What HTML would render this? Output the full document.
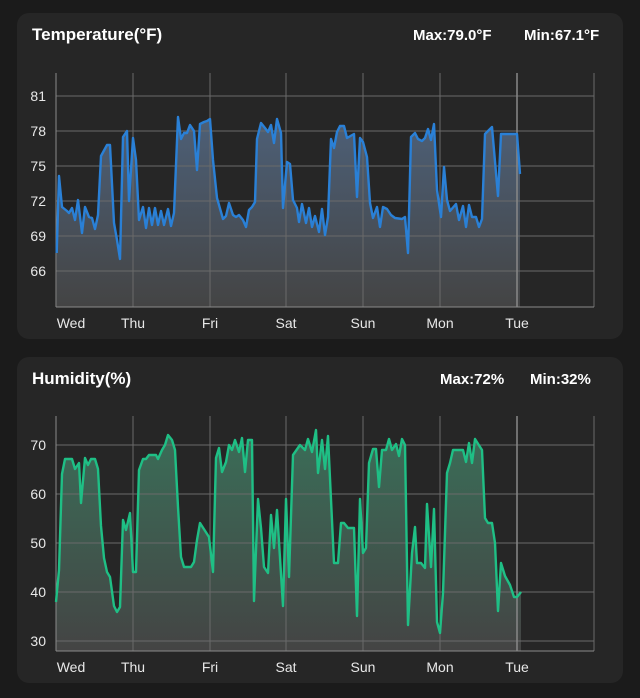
<!DOCTYPE html>
<html><head><meta charset="utf-8"><style>
html,body{margin:0;padding:0;background:#1b1b1b;}
svg{display:block;font-family:"Liberation Sans",sans-serif;}
</style></head><body>
<svg width="640" height="698" viewBox="0 0 640 698" xmlns="http://www.w3.org/2000/svg">
<defs>
<linearGradient id="gt" x1="0" y1="0" x2="0" y2="1"><stop offset="0" stop-color="#4d6078"/><stop offset="1" stop-color="#444"/></linearGradient>
<linearGradient id="gh" x1="0" y1="0" x2="0" y2="1"><stop offset="0" stop-color="#3a6e58"/><stop offset="1" stop-color="#444"/></linearGradient>
</defs>
<rect width="640" height="698" fill="#1b1b1b"/>
<rect x="17" y="13" width="606" height="326" rx="12" fill="#262626"/>
<rect x="17" y="357" width="606" height="326" rx="12" fill="#262626"/>

<text x="32" y="40" fill="#fff" font-size="17" font-weight="bold">Temperature(°F)</text>
<text x="413" y="40" fill="#fff" font-size="15" font-weight="bold">Max:79.0°F</text>
<text x="524" y="40" fill="#fff" font-size="15" font-weight="bold">Min:67.1°F</text>

<!-- temp chart -->
<path fill="url(#gt)" d="M56.7,307 L56.7,253 59,176 62,207 67,211 69,213 72,208 75,220 78,200 82,233 85,207 89,217 92,218 95,229 98,215 101,156 107,145 110,145 114,223 117,240 120,259 123,137 127,131 129,201 133,138 136,160 139,220 143,207 146,228 149,208 152,225 155,208 158,225 161,211 164,225 168,209 171,226 174,213 178,117 181,139 184,133 187,133 190,125 194,131 197,170 200,124 204,122 207,121 210,119 213,160 217,198 223,219 226,216 229,203 233,215 236,217 239,215 243,220 246,227 249,210 252,207 255,202 257,139 261,123 265,128 268,132 271,125 274,143 277,119 281,133 283,208 287,162 290,164 293,200 297,208 299,222 302,204 306,223 309,208 312,227 315,216 319,232 322,209 325,235 328,217 331,139 334,148 337,132 340,126 344,126 347,138 354,134 357,197 360,138 363,142 367,157 370,203 373,218 377,207 380,227 383,207 387,209 391,215 395,218 402,219 405,217 408,253 411,137 415,133 418,139 422,141 425,138 428,129 431,140 434,124 437,190 441,217 444,167 447,200 450,211 456,204 459,220 463,206 466,227 469,205 472,217 476,217 479,227 482,219 485,134 492,127 498,196 501,134 517,134 520,174 L520,307 Z"/>
<g stroke="#6a6a6a" stroke-width="1">
<line x1="56" y1="96" x2="594" y2="96"/><line x1="56" y1="131" x2="594" y2="131"/><line x1="56" y1="166" x2="594" y2="166"/><line x1="56" y1="201" x2="594" y2="201"/><line x1="56" y1="236" x2="594" y2="236"/><line x1="56" y1="271" x2="594" y2="271"/>
<line x1="133" y1="73" x2="133" y2="307"/><line x1="210" y1="73" x2="210" y2="307"/><line x1="286" y1="73" x2="286" y2="307"/><line x1="363" y1="73" x2="363" y2="307"/><line x1="440" y1="73" x2="440" y2="307"/><line x1="594" y1="73" x2="594" y2="307"/>
</g>
<line x1="517" y1="73" x2="517" y2="307" stroke="#888" stroke-width="1.5"/>
<line x1="56" y1="73" x2="56" y2="307" stroke="#8a8a8a"/><line x1="56" y1="307" x2="594" y2="307" stroke="#8a8a8a"/>
<polyline fill="none" stroke="#2a80d6" stroke-width="2.4" stroke-linejoin="round" points="56.7,253 59,176 62,207 67,211 69,213 72,208 75,220 78,200 82,233 85,207 89,217 92,218 95,229 98,215 101,156 107,145 110,145 114,223 117,240 120,259 123,137 127,131 129,201 133,138 136,160 139,220 143,207 146,228 149,208 152,225 155,208 158,225 161,211 164,225 168,209 171,226 174,213 178,117 181,139 184,133 187,133 190,125 194,131 197,170 200,124 204,122 207,121 210,119 213,160 217,198 223,219 226,216 229,203 233,215 236,217 239,215 243,220 246,227 249,210 252,207 255,202 257,139 261,123 265,128 268,132 271,125 274,143 277,119 281,133 283,208 287,162 290,164 293,200 297,208 299,222 302,204 306,223 309,208 312,227 315,216 319,232 322,209 325,235 328,217 331,139 334,148 337,132 340,126 344,126 347,138 354,134 357,197 360,138 363,142 367,157 370,203 373,218 377,207 380,227 383,207 387,209 391,215 395,218 402,219 405,217 408,253 411,137 415,133 418,139 422,141 425,138 428,129 431,140 434,124 437,190 441,217 444,167 447,200 450,211 456,204 459,220 463,206 466,227 469,205 472,217 476,217 479,227 482,219 485,134 492,127 498,196 501,134 517,134 520,174"/>
<g fill="#e8e8e8" font-size="14" text-anchor="end">
<text x="46" y="101">81</text><text x="46" y="136">78</text><text x="46" y="171">75</text><text x="46" y="206">72</text><text x="46" y="241">69</text><text x="46" y="276">66</text>
</g>
<g fill="#e8e8e8" font-size="14" text-anchor="middle">
<text x="71" y="328">Wed</text><text x="133" y="328">Thu</text><text x="210" y="328">Fri</text><text x="286" y="328">Sat</text><text x="363" y="328">Sun</text><text x="440" y="328">Mon</text><text x="517" y="328">Tue</text>
</g>

<!-- humidity -->
<text x="32" y="384" fill="#fff" font-size="17" font-weight="bold">Humidity(%)</text>
<text x="440" y="384" fill="#fff" font-size="15" font-weight="bold">Max:72%</text>
<text x="530" y="384" fill="#fff" font-size="15" font-weight="bold">Min:32%</text>
<path fill="url(#gh)" d="M56,651 L56,602 59,570 62,474 65,459 72,459 75,469 79,463 81,503 85,458 88,465 91,459 95,459 98,469 101,526 104,558 107,572 110,577 114,606 117,612 120,607 123,520 126,530 130,513 133,572 136,572 139,470 143,459 146,459 149,455 156,455 158,459 162,450 165,445 168,435 172,440 175,450 178,507 181,557 184,567 191,567 194,562 197,540 200,523 209,537 213,572 216,458 219,448 222,472 226,462 229,445 232,450 235,440 239,452 242,438 245,472 248,440 252,440 254,601 258,499 261,528 264,567 268,573 271,515 274,548 277,510 283,606 286,499 289,577 293,455 300,445 305,450 308,439 312,452 316,430 318,473 322,440 325,469 328,436 334,563 338,563 341,523 344,523 348,528 354,528 357,616 360,499 363,553 366,548 369,463 373,449 376,449 379,487 382,450 386,450 389,439 392,450 396,444 399,456 402,439 405,445 408,625 412,553 415,527 417,563 421,563 425,568 427,504 431,567 434,509 437,622 440,633 443,593 447,473 450,463 453,450 463,450 466,462 469,443 472,463 475,439 482,450 485,518 488,523 492,523 495,543 498,611 501,563 505,576 510,585 514,597 517,597 521,592 L521,651 Z"/>
<g stroke="#6a6a6a" stroke-width="1">
<line x1="56" y1="445" x2="594" y2="445"/><line x1="56" y1="494" x2="594" y2="494"/><line x1="56" y1="543" x2="594" y2="543"/><line x1="56" y1="592" x2="594" y2="592"/><line x1="56" y1="641" x2="594" y2="641"/>
<line x1="133" y1="416" x2="133" y2="651"/><line x1="210" y1="416" x2="210" y2="651"/><line x1="286" y1="416" x2="286" y2="651"/><line x1="363" y1="416" x2="363" y2="651"/><line x1="440" y1="416" x2="440" y2="651"/><line x1="594" y1="416" x2="594" y2="651"/>
</g>
<line x1="517" y1="416" x2="517" y2="651" stroke="#888" stroke-width="1.5"/>
<line x1="56" y1="416" x2="56" y2="651" stroke="#8a8a8a"/><line x1="56" y1="651" x2="594" y2="651" stroke="#8a8a8a"/>
<polyline fill="none" stroke="#1fbf85" stroke-width="2.4" stroke-linejoin="round" points="56,602 59,570 62,474 65,459 72,459 75,469 79,463 81,503 85,458 88,465 91,459 95,459 98,469 101,526 104,558 107,572 110,577 114,606 117,612 120,607 123,520 126,530 130,513 133,572 136,572 139,470 143,459 146,459 149,455 156,455 158,459 162,450 165,445 168,435 172,440 175,450 178,507 181,557 184,567 191,567 194,562 197,540 200,523 209,537 213,572 216,458 219,448 222,472 226,462 229,445 232,450 235,440 239,452 242,438 245,472 248,440 252,440 254,601 258,499 261,528 264,567 268,573 271,515 274,548 277,510 283,606 286,499 289,577 293,455 300,445 305,450 308,439 312,452 316,430 318,473 322,440 325,469 328,436 334,563 338,563 341,523 344,523 348,528 354,528 357,616 360,499 363,553 366,548 369,463 373,449 376,449 379,487 382,450 386,450 389,439 392,450 396,444 399,456 402,439 405,445 408,625 412,553 415,527 417,563 421,563 425,568 427,504 431,567 434,509 437,622 440,633 443,593 447,473 450,463 453,450 463,450 466,462 469,443 472,463 475,439 482,450 485,518 488,523 492,523 495,543 498,611 501,563 505,576 510,585 514,597 517,597 521,592"/>
<g fill="#e8e8e8" font-size="14" text-anchor="end">
<text x="46" y="450">70</text><text x="46" y="499">60</text><text x="46" y="548">50</text><text x="46" y="597">40</text><text x="46" y="646">30</text>
</g>
<g fill="#e8e8e8" font-size="14" text-anchor="middle">
<text x="71" y="672">Wed</text><text x="133" y="672">Thu</text><text x="210" y="672">Fri</text><text x="286" y="672">Sat</text><text x="363" y="672">Sun</text><text x="440" y="672">Mon</text><text x="517" y="672">Tue</text>
</g>
</svg>
</body></html>
